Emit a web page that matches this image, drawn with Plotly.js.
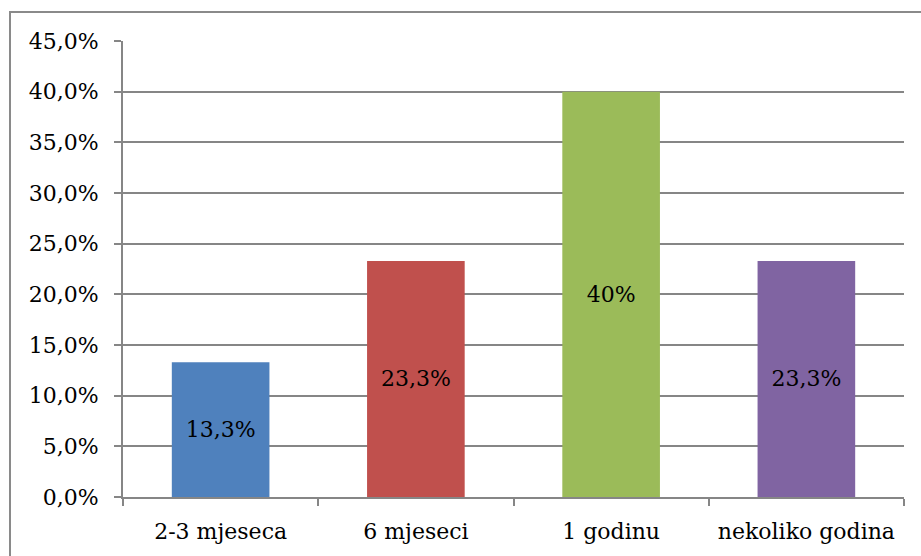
<!DOCTYPE html>
<html><head><meta charset="utf-8">
<script src="https://cdn.plot.ly/plotly-3.0.1.min.js"></script>
<style>
html,body{margin:0;padding:0;background:#fff;overflow:hidden}
#wrap{position:relative;width:921px;height:556px}
#chart{width:921px;height:556px}
#frame{position:absolute;left:9px;top:11px;width:920px;height:600px;border:2px solid #8a8a8a;box-sizing:border-box;pointer-events:none}
</style></head>
<body><div id="wrap"><div id="chart"></div><div id="frame"></div></div>
<script>
const categories = ["2-3 mjeseca", "6 mjeseci", "1 godinu", "nekoliko godina"];
const values = [13.3, 23.3, 40, 23.3];
const labels = ["13,3%", "23,3%", "40%", "23,3%"];
const colors = ["#4F81BD", "#C0504D", "#9BBB59", "#8064A2"];
const yTicks = [0, 5, 10, 15, 20, 25, 30, 35, 40, 45];
const yTickText = ["0,0%", "5,0%", "10,0%", "15,0%", "20,0%", "25,0%", "30,0%", "35,0%", "40,0%", "45,0%"];

const font = {family: "'DejaVu Serif', 'Liberation Serif', serif", size: 22, color: "#000"};
Plotly.newPlot("chart", [{
  type: "bar", x: categories, y: values, text: labels,
  textposition: "inside", insidetextanchor: "middle", constraintext: "none",
  textfont: {family: font.family, size: 22, color: "#000"},
  insidetextfont: {family: font.family, size: 22, color: "#000"},
  marker: {color: colors}, hoverinfo: "none", showlegend: false
}], {
  width: 921, height: 556,
  margin: {l: 123, r: 17, t: 41, b: 59},
  paper_bgcolor: "#fff", plot_bgcolor: "#fff",
  bargap: 0.5,
  font: font,
  xaxis: {type: "category", showline: true, linecolor: "#868686", linewidth: 2,
    ticks: "outside", tickson: "boundaries", ticklen: 7, tickcolor: "#868686", tickwidth: 2,
    showgrid: false, tickfont: font, ticklabelstandoff: 14},
  yaxis: {range: [0, 45], tickmode: "array", tickvals: yTicks, ticktext: yTickText,
    showline: true, linecolor: "#868686", linewidth: 2, ticks: "outside", ticklen: 7,
    tickcolor: "#868686", tickwidth: 2, showgrid: true, gridcolor: "#868686", gridwidth: 2,
    zeroline: false, tickfont: font, ticklabelstandoff: 11}
}, {staticPlot: true, displayModeBar: false});
</script></body></html>
